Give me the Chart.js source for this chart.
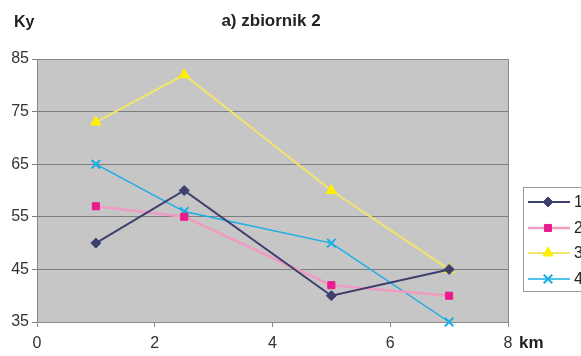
<!DOCTYPE html>
<html>
<head>
<meta charset="utf-8">
<script src="https://cdn.jsdelivr.net/npm/chart.js@4/dist/chart.umd.min.js"></script>
<style>
  html, body { margin: 0; padding: 0; background: #ffffff; }
  #wrap { width: 581px; height: 356px; overflow: hidden; }
</style>
</head>
<body>
<div id="wrap"><canvas id="c" width="581" height="356"></canvas></div>
<script>
// Distance along the reservoir (km) and Ky values for the four series
const distances = [1, 2.5, 5, 7];
const seriesLabels = ['1', '2', '3', '4'];
const series1 = [50, 60, 40, 45];
const series2 = [57, 55, 42, 40];
const series3 = [73, 82, 60, 45];
const series4 = [65, 56, 50, 35];

const titleText = 'a) zbiornik 2';
const yAxisTitle = 'Ky';
const xAxisTitle = 'km';

const FONT = '"Liberation Sans", Arial, sans-serif';

function toPoints(values) {
  return values.map((v, i) => ({ x: distances[i], y: v }));
}

const styles = [
  { line: '#3d3f6e', fill: '#3d3f6e', shape: 'rectRot', radius: 5, width: 2 },
  { line: '#ef9cc2', fill: '#ea1b8c', shape: 'rect', radius: 5, width: 2.5 },
  { line: '#f3e46a', fill: '#fff000', shape: 'triangle', radius: 6, width: 2 },
  { line: '#19aee6', fill: '#19aee6', shape: 'crossRot', radius: 6, width: 1.5 }
];

const allSeries = [series1, series2, series3, series4];

const datasets = allSeries.map((vals, i) => ({
  label: seriesLabels[i],
  data: toPoints(vals),
  borderColor: styles[i].line,
  borderWidth: styles[i].width,
  backgroundColor: styles[i].fill,
  pointBackgroundColor: styles[i].fill,
  pointBorderColor: styles[i].fill,
  pointBorderWidth: styles[i].shape === 'crossRot' ? 2 : 1,
  pointStyle: styles[i].shape,
  pointRadius: styles[i].radius,
  showLine: true,
  tension: 0,
  clip: false
}));

// Grey plot area, frame, titles and a boxed legend on the right
const decorations = {
  id: 'decorations',
  beforeDraw(chart) {
    const { ctx, chartArea: a } = chart;
    ctx.save();
    ctx.fillStyle = '#c6c6c6';
    ctx.fillRect(a.left, a.top, a.right - a.left, a.bottom - a.top);
    ctx.restore();
  },
  beforeDatasetsDraw(chart) {
    const { ctx, chartArea: a } = chart;
    ctx.save();
    ctx.strokeStyle = '#8a8a8a';
    ctx.lineWidth = 1;
    ctx.strokeRect(a.left + 0.5, a.top + 0.5, a.right - a.left, a.bottom - a.top);
    ctx.restore();
  },
  afterDraw(chart) {
    const { ctx } = chart;
    ctx.save();
    ctx.fillStyle = '#222222';
    ctx.textBaseline = 'middle';
    ctx.font = 'bold 17px ' + FONT;
    ctx.textAlign = 'center';
    ctx.fillText(titleText, 271, 21);
    ctx.textAlign = 'left';
    ctx.font = 'bold 16px ' + FONT;
    ctx.fillText(yAxisTitle, 14, 23);
    ctx.font = 'bold 17px ' + FONT;
    ctx.fillText(xAxisTitle, 519, 343);

    // legend
    const box = { x: 523.5, y: 187.5, w: 80, h: 104 };
    ctx.fillStyle = '#ffffff';
    ctx.fillRect(box.x, box.y, box.w, box.h);
    ctx.strokeStyle = '#9a9a9a';
    ctx.lineWidth = 1;
    ctx.strokeRect(box.x, box.y, box.w, box.h);
    const rowY = [202, 228, 253, 279];
    chart.data.datasets.forEach((ds, i) => {
      const y = rowY[i];
      ctx.strokeStyle = ds.borderColor;
      ctx.lineWidth = ds.borderWidth;
      ctx.beginPath();
      ctx.moveTo(528, y);
      ctx.lineTo(570, y);
      ctx.stroke();
      ctx.fillStyle = ds.pointBackgroundColor;
      ctx.strokeStyle = ds.pointBorderColor;
      ctx.lineWidth = ds.pointBorderWidth;
      Chart.helpers.drawPoint(ctx, {
        pointStyle: ds.pointStyle,
        radius: ds.pointRadius,
        rotation: 0,
        borderWidth: ds.pointBorderWidth
      }, 548, y);
      ctx.fillStyle = '#222222';
      ctx.font = '16px ' + FONT;
      ctx.textAlign = 'left';
      ctx.fillText(ds.label, 574, y + 1);
    });
    ctx.restore();
  }
};

new Chart(document.getElementById('c'), {
  type: 'scatter',
  data: { datasets },
  options: {
    responsive: false,
    animation: false,
    devicePixelRatio: 1,
    layout: { padding: { left: 0, right: 73, top: 59, bottom: 0 } },
    plugins: { legend: { display: false }, tooltip: { enabled: false }, title: { display: false } },
    scales: {
      x: {
        type: 'linear',
        min: 0, max: 8,
        ticks: { stepSize: 2, color: '#333333', font: { family: FONT, size: 16 }, padding: 7, maxRotation: 0 },
        grid: { drawOnChartArea: false, drawTicks: true, tickLength: 5, color: '#8a8a8a' },
        border: { display: true, color: '#8a8a8a' },
        afterFit(scale) { scale.height = 34; }
      },
      y: {
        min: 35, max: 85,
        ticks: { stepSize: 10, color: '#333333', font: { family: FONT, size: 16 }, padding: 3 },
        grid: { drawOnChartArea: true, drawTicks: true, tickLength: 5, color: '#7e7e7e', lineWidth: 1 },
        border: { display: true, color: '#8a8a8a' },
        afterFit(scale) { scale.width = 37; }
      }
    }
  },
  plugins: [decorations]
});
</script>
</body>
</html>
